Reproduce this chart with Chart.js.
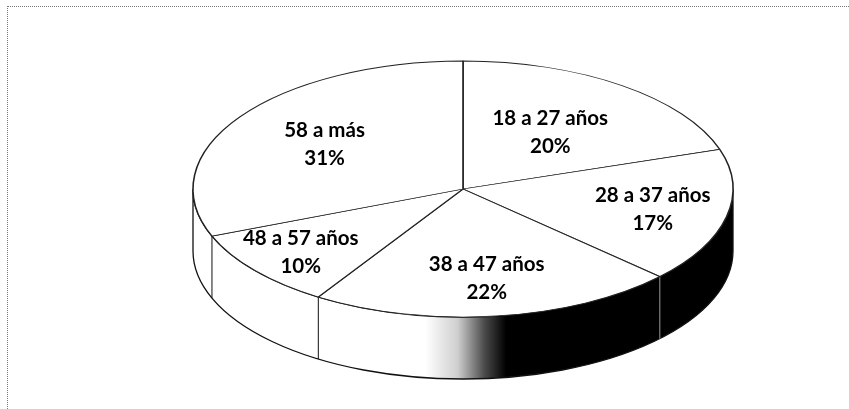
<!DOCTYPE html>
<html lang="es">
<head>
<meta charset="UTF-8" />
<title>Edades</title>
<script src="https://cdn.jsdelivr.net/npm/chart.js@4.4.0/dist/chart.umd.min.js"></script>
<style>
  html, body { margin: 0; padding: 0; background: #fff; }
  .contenedor { position: relative; width: 849px; height: 409px; overflow: hidden; }
  .marco {
    position: absolute; left: 7px; top: 6px; right: -10px; bottom: -10px;
    border-top: 1px dotted #777; border-left: 1px dotted #777;
  }
  canvas { position: absolute; left: 0; top: 0; }
</style>
</head>
<body>
<div class="contenedor">
  <div class="marco"></div>
  <canvas id="edades" width="849" height="409"></canvas>
</div>
<script>
var categorias = ["18 a 27 años", "28 a 37 años", "38 a 47 años", "48 a 57 años", "58 a más"];
var porcentajes = [20, 17, 22, 10, 31];

// pastel "3D": se aplana el pastel de Chart.js y se le dibuja el costado
var pie3d = {
  id: "pie3d",
  beforeDatasetsDraw(chart, args, opts) {
    const ctx = chart.ctx;
    const arcs = chart.getDatasetMeta(0).data;
    const R = arcs[0].outerRadius;
    const cx = opts.cx, cy = opts.cy, rx = opts.rx, ry = opts.ry, h = opts.depth;

    // costado
    ctx.save();
    const grad = ctx.createLinearGradient(cx - rx, 0, cx + rx, 0);
    grad.addColorStop(0, "#ffffff");
    grad.addColorStop(0.43, "#ffffff");
    grad.addColorStop(0.49, "#cfcfcf");
    grad.addColorStop(0.54, "#4a4a4a");
    grad.addColorStop(0.58, "#000000");
    grad.addColorStop(1, "#000000");
    ctx.beginPath();
    ctx.ellipse(cx, cy, rx, ry, 0, 0, Math.PI);
    ctx.ellipse(cx, cy + h, rx, ry, 0, Math.PI, 0, true);
    ctx.closePath();
    ctx.fillStyle = grad;
    ctx.fill();
    ctx.strokeStyle = "#111";
    ctx.lineWidth = 1.3;
    ctx.stroke();

    // aristas verticales en los bordes de las porciones
    arcs.forEach(function (a) {
      const ang = a.startAngle;
      if (Math.sin(ang) > 0.05) {
        const x = cx + rx * Math.cos(ang);
        const y = cy + ry * Math.sin(ang);
        ctx.beginPath();
        ctx.moveTo(x, y);
        ctx.lineTo(x, y + h);
        ctx.strokeStyle = x < cx ? "#111" : "#999";
        ctx.lineWidth = 1;
        ctx.stroke();
      }
    });
    ctx.restore();

    // cara superior aplanada
    ctx.save();
    ctx.translate(cx, cy);
    ctx.scale(rx / R, ry / R);
    ctx.translate(-arcs[0].x, -arcs[0].y);
  },
  afterDatasetsDraw(chart, args, opts) {
    const ctx = chart.ctx;
    ctx.restore();
    const arcs = chart.getDatasetMeta(0).data;
    ctx.save();
    ctx.font = opts.font;
    ctx.fillStyle = "#000";
    ctx.textAlign = "center";
    ctx.textBaseline = "middle";
    arcs.forEach(function (a, i) {
      const mid = (a.startAngle + a.endAngle) / 2;
      const f = opts.labelRadius[i];
      const x = opts.cx + opts.rx * f * Math.cos(mid);
      const y = opts.cy + opts.ry * f * Math.sin(mid);
      ctx.fillText(categorias[i], x, y - 14);
      ctx.fillText(porcentajes[i] + "%", x, y + 14);
    });
    ctx.restore();
  }
};

new Chart(document.getElementById("edades"), {
  type: "pie",
  data: {
    labels: categorias,
    datasets: [{
      data: porcentajes,
      backgroundColor: "#ffffff",
      borderColor: "#222222",
      borderWidth: 1.2
    }]
  },
  options: {
    responsive: false,
    animation: false,
    events: [],
    plugins: {
      legend: { display: false },
      tooltip: { enabled: false },
      pie3d: {
        cx: 463, cy: 189, rx: 270, ry: 128, depth: 62,
        labelRadius: [0.55, 0.72, 0.7, 0.78, 0.62],
        font: "bold 20.5px Lato"
      }
    }
  },
  plugins: [pie3d]
});
</script>
</body>
</html>
